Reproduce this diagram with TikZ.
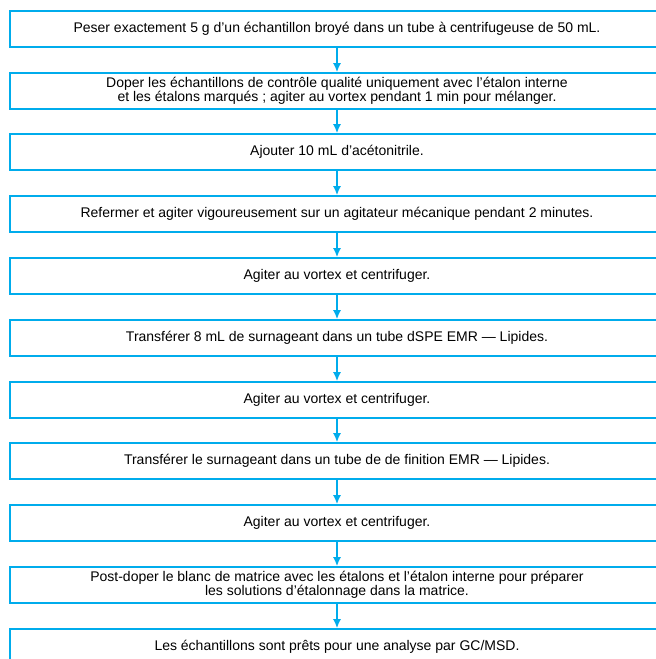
\documentclass[tikz,border=0pt]{standalone}
\usepackage{fontspec}
\setmainfont{Liberation Sans}
\usetikzlibrary{arrows.meta}
\definecolor{stepblue}{RGB}{0,172,236}

\begin{document}
\begin{tikzpicture}[x=1pt, y=-1pt,
    stepbox/.style={draw=stepblue, line width=1.6pt, minimum width=654pt, minimum height=36pt,
      inner sep=0pt, align=center, font=\fontsize{14}{13.5}\selectfont},
    flow/.style={draw=stepblue, line width=1.6pt, -{Latex[length=9pt,width=8pt]}}]
    \useasboundingbox (0,0) rectangle (656,659);
    \node[stepbox] (s1)  at (337, 29) {Peser exactement 5 g d’un échantillon broyé dans un tube à centrifugeuse de 50 mL.};
    \node[stepbox] (s2)  at (337, 91) {Doper les échantillons de contrôle qualité uniquement avec l’étalon interne\\et les étalons marqués ; agiter au vortex pendant 1 min pour mélanger.};
    \node[stepbox] (s3)  at (337,152) {Ajouter 10 mL d’acétonitrile.};
    \node[stepbox] (s4)  at (337,214) {Refermer et agiter vigoureusement sur un agitateur mécanique pendant 2 minutes.};
    \node[stepbox] (s5)  at (337,276) {Agiter au vortex et centrifuger.};
    \node[stepbox] (s6)  at (337,338) {Transférer 8 mL de surnageant dans un tube dSPE EMR — Lipides.};
    \node[stepbox] (s7)  at (337,400) {Agiter au vortex et centrifuger.};
    \node[stepbox] (s8)  at (337,461) {Transférer le surnageant dans un tube de de finition EMR — Lipides.};
    \node[stepbox] (s9)  at (337,523) {Agiter au vortex et centrifuger.};
    \node[stepbox] (s10) at (337,585) {Post-doper le blanc de matrice avec les étalons et l’étalon interne pour préparer\\les solutions d’étalonnage dans la matrice.};
    \node[stepbox] (s11) at (337,647) {Les échantillons sont prêts pour une analyse par GC/MSD.};

    \draw[flow] (s1) -- (s2);
    \draw[flow] (s2) -- (s3);
    \draw[flow] (s3) -- (s4);
    \draw[flow] (s4) -- (s5);
    \draw[flow] (s5) -- (s6);
    \draw[flow] (s6) -- (s7);
    \draw[flow] (s7) -- (s8);
    \draw[flow] (s8) -- (s9);
    \draw[flow] (s9) -- (s10);
    \draw[flow] (s10) -- (s11);
\end{tikzpicture}
\end{document}
